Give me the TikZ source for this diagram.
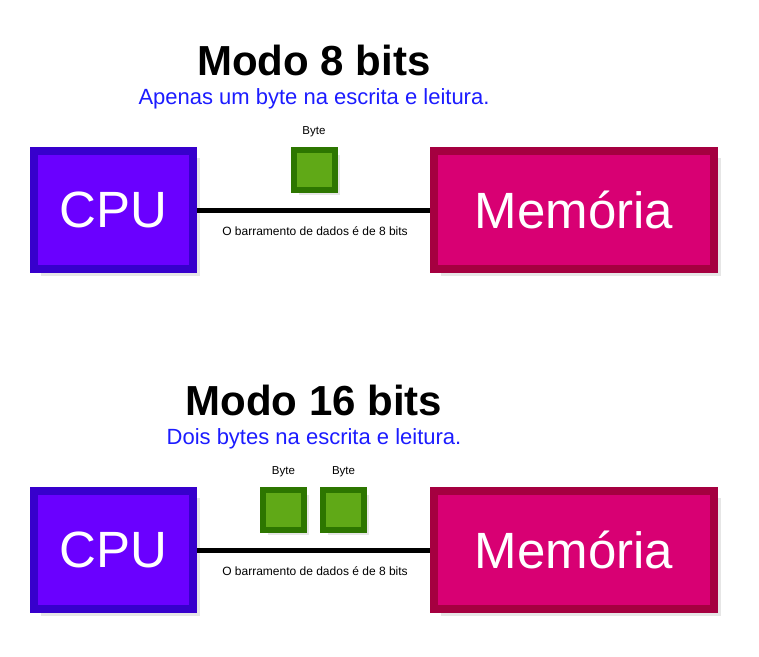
\documentclass[tikz,border=0pt]{standalone}
\usepackage{fontspec}
\setmainfont{Liberation Sans}
\usetikzlibrary{shadows}
\definecolor{cpufill}{HTML}{6A00FF}
\definecolor{cpuline}{HTML}{3700CC}
\definecolor{memfill}{HTML}{D80073}
\definecolor{memline}{HTML}{A50040}
\definecolor{bytefill}{HTML}{60A917}
\definecolor{byteline}{HTML}{2D7600}
\definecolor{subblue}{HTML}{1C1CFF}
\begin{document}
\begin{tikzpicture}[x=1pt, y=-1pt,
    shade/.style={drop shadow={opacity=0.2, shadow xshift=#1, shadow yshift=-#1}},
    unitbox/.style={shade=6.5pt, line width=8pt, minimum height=118pt, text=white,
        font=\fontsize{51}{51}\selectfont, anchor=center},
    bytebox/.style={shade=5pt, draw=byteline, fill=bytefill, line width=6pt,
        minimum width=41pt, minimum height=40pt},
    small/.style={font=\fontsize{11.5}{12}\selectfont, anchor=base},
    title/.style={font=\fontsize{42}{42}\selectfont\bfseries, anchor=base},
    subtitle/.style={font=\fontsize{22}{22}\selectfont, text=subblue, anchor=base}]
    \useasboundingbox (0,0) rectangle (759,656);
    \foreach \dy/\n/\txt in {0/8/Apenas um byte na escrita e leitura., 340/16/Dois bytes na escrita e leitura.} {
        \node[title] (title\n) at (314,75+\dy) {Modo \n\ bits};
        \node[subtitle] (sub\n) at (314,104+\dy) {\txt};
        \node[unitbox, draw=cpuline, fill=cpufill, minimum width=159pt] (cpu\n) at (113.5,210+\dy) {CPU};
        \node[unitbox, draw=memline, fill=memfill, minimum width=280pt] (mem\n) at (574,210+\dy) {Memória};
        \draw[line width=5pt] (cpu\n) -- (mem\n);
        \node[small, font=\fontsize{12}{12}\selectfont] (bus\n) at (315,235+\dy) {O barramento de dados é de 8 bits};
    }
    \node[bytebox] (byteA) at (314,170) {};
    \node[small] at (314,134) {Byte};
    \foreach \x/\b in {283.5/B, 343.5/C} {
        \node[bytebox] (byte\b) at (\x,510) {};
        \node[small] at (\x,474) {Byte};
    }
\end{tikzpicture}
\end{document}
